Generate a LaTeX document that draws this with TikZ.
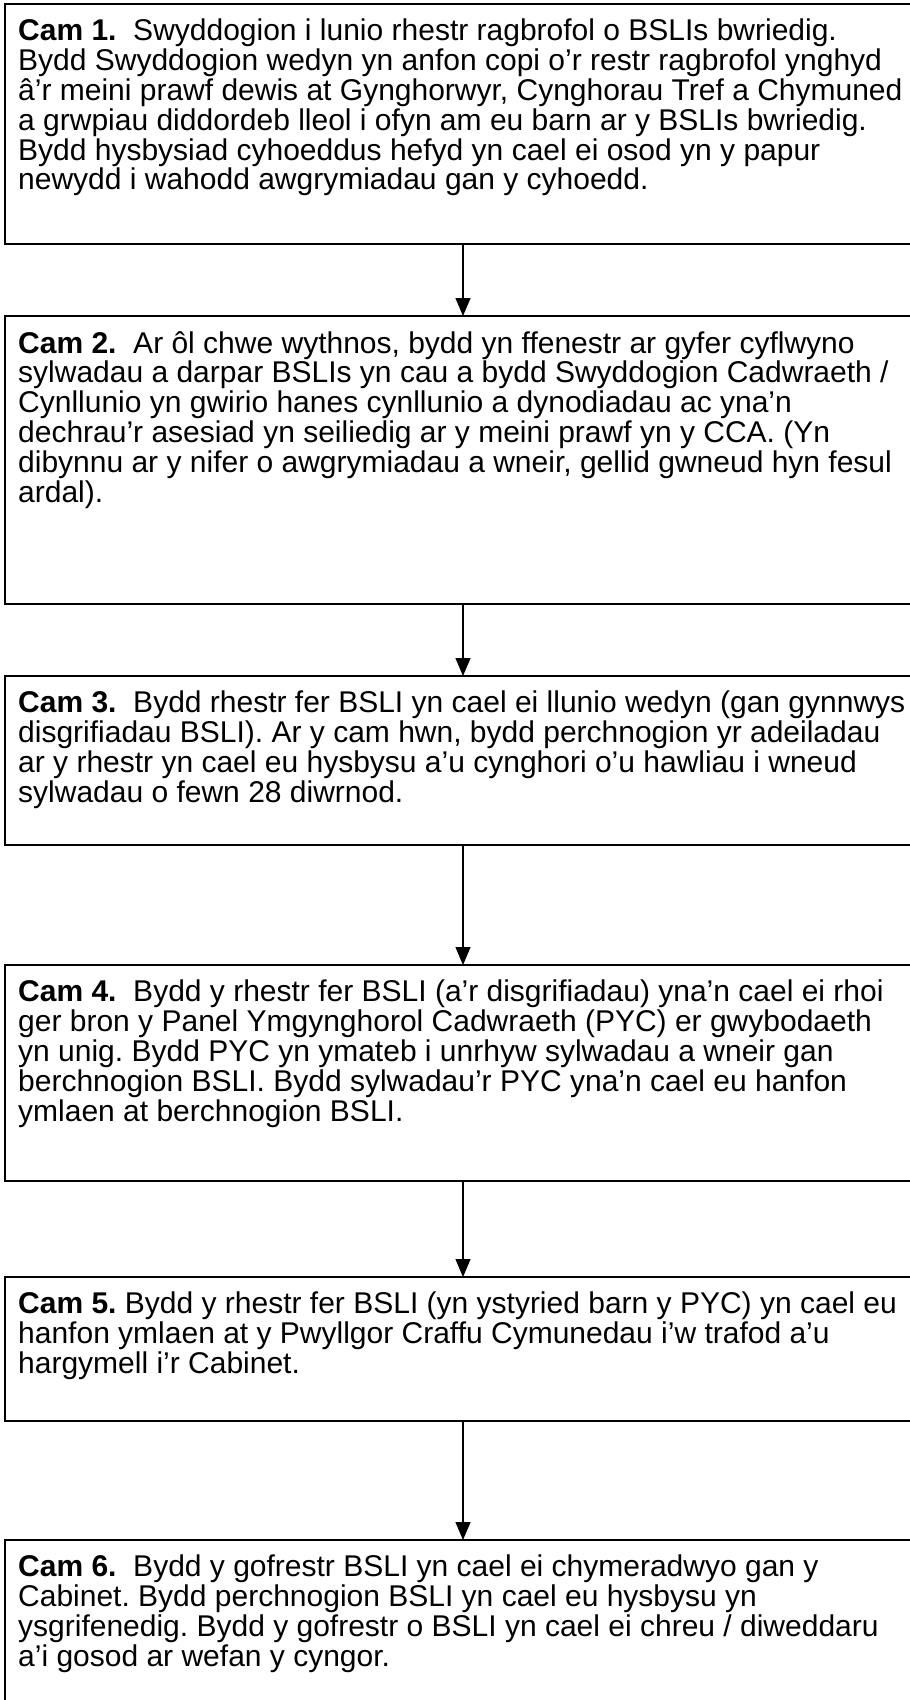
\documentclass[tikz,border=0pt]{standalone}
\usepackage{fontspec}
\setmainfont{Liberation Sans}
\usetikzlibrary{arrows.meta,positioning}
\frenchspacing

\begin{document}
\begin{tikzpicture}[x=1pt,y=1pt,
  stepbox/.style={draw,line width=2pt,outer sep=0pt,inner sep=0pt,minimum width=916pt},
  steptext/.style={anchor=north west,align=left,inner sep=0pt,font=\fontsize{30pt}{29.8pt}\selectfont},
  flow/.style={-{Triangle[length=18pt,width=15pt]},line width=1.2pt}]

\useasboundingbox (0,0) rectangle (910,-1700);
\clip (0,0) rectangle (910,-1700);

\node [stepbox,anchor=north west,minimum height=240pt] (cam1) at (5,-4) {};
\node [steptext] (cam1-txt) at ([xshift=13pt,yshift=-15pt]cam1.north west) {\textbf{Cam 1.}\ \ Swyddogion i lunio rhestr ragbrofol o BSLIs bwriedig.\\
Bydd Swyddogion wedyn yn anfon copi o’r restr ragbrofol ynghyd\\
â’r meini prawf dewis at Gynghorwyr, Cynghorau Tref a Chymuned\\
a grwpiau diddordeb lleol i ofyn am eu barn ar y BSLIs bwriedig.\\
Bydd hysbysiad cyhoeddus hefyd yn cael ei osod yn y papur\\
newydd i wahodd awgrymiadau gan y cyhoedd.};
%%%%%%%%%%%%%%%%%%%%%%%%%%
\node [stepbox,anchor=north,minimum height=288pt] (cam2) at ([yshift=-72pt]cam1.south) {};
\node [steptext] (cam2-txt) at ([xshift=13pt,yshift=-15pt]cam2.north west) {\textbf{Cam 2.}\ \ Ar ôl chwe wythnos, bydd yn ffenestr ar gyfer cyflwyno\\
sylwadau a darpar BSLIs yn cau a bydd Swyddogion Cadwraeth /\\
Cynllunio yn gwirio hanes cynllunio a dynodiadau ac yna’n\\
dechrau’r asesiad yn seiliedig ar y meini prawf yn y CCA. (Yn\\
dibynnu ar y nifer o awgrymiadau a wneir, gellid gwneud hyn fesul\\
ardal).};
\draw [flow](cam1.south)--(cam2.north);
%%%%%%%%%%%%%%%%%%%%%%%%%%
\node [stepbox,anchor=north,minimum height=169pt] (cam3) at ([yshift=-72pt]cam2.south) {};
\node [steptext] (cam3-txt) at ([xshift=13pt,yshift=-15pt]cam3.north west) {\textbf{Cam 3.}\ \ Bydd rhestr fer BSLI yn cael ei llunio wedyn (gan gynnwys\\
disgrifiadau BSLI). Ar y cam hwn, bydd perchnogion yr adeiladau\\
ar y rhestr yn cael eu hysbysu a’u cynghori o’u hawliau i wneud\\
sylwadau o fewn 28 diwrnod.};
\draw [flow](cam2.south)--(cam3.north);
%%%%%%%%%%%%%%%%%%%%%%%%%%
\node [stepbox,anchor=north,minimum height=216pt] (cam4) at ([yshift=-120pt]cam3.south) {};
\node [steptext] (cam4-txt) at ([xshift=13pt,yshift=-15pt]cam4.north west) {\textbf{Cam 4.}\ \ Bydd y rhestr fer BSLI (a’r disgrifiadau) yna’n cael ei rhoi\\
ger bron y Panel Ymgynghorol Cadwraeth (PYC) er gwybodaeth\\
yn unig. Bydd PYC yn ymateb i unrhyw sylwadau a wneir gan\\
berchnogion BSLI. Bydd sylwadau’r PYC yna’n cael eu hanfon\\
ymlaen at berchnogion BSLI.};
\draw [flow](cam3.south)--(cam4.north);
%%%%%%%%%%%%%%%%%%%%%%%%%%
\node [stepbox,anchor=north,minimum height=144pt] (cam5) at ([yshift=-96pt]cam4.south) {};
\node [steptext] (cam5-txt) at ([xshift=13pt,yshift=-15pt]cam5.north west) {\textbf{Cam 5.} Bydd y rhestr fer BSLI (yn ystyried barn y PYC) yn cael eu\\
hanfon ymlaen at y Pwyllgor Craffu Cymunedau i’w trafod a’u\\
hargymell i’r Cabinet.};
\draw [flow](cam4.south)--(cam5.north);
%%%%%%%%%%%%%%%%%%%%%%%%%%
\node [stepbox,anchor=north,minimum height=220pt] (cam6) at ([yshift=-119pt]cam5.south) {};
\node [steptext] (cam6-txt) at ([xshift=13pt,yshift=-15pt]cam6.north west) {\textbf{Cam 6.}\ \ Bydd y gofrestr BSLI yn cael ei chymeradwyo gan y\\
Cabinet. Bydd perchnogion BSLI yn cael eu hysbysu yn\\
ysgrifenedig. Bydd y gofrestr o BSLI yn cael ei chreu / diweddaru\\
a’i gosod ar wefan y cyngor.};
\draw [flow](cam5.south)--(cam6.north);

\end{tikzpicture}
\end{document}
